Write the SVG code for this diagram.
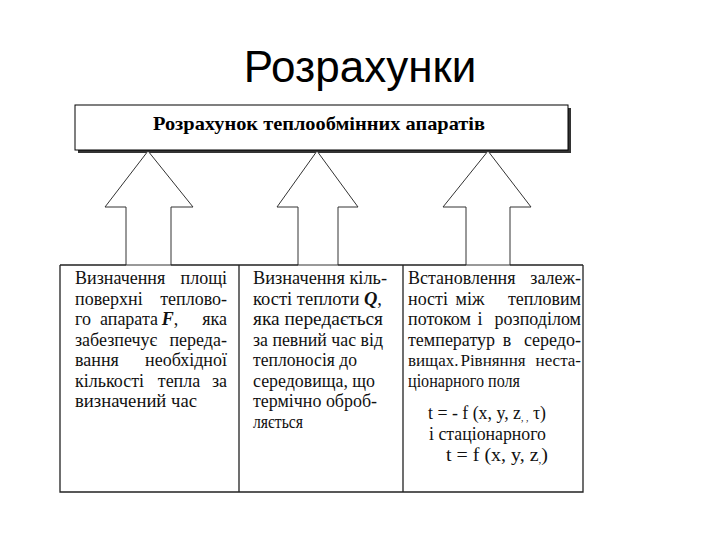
<svg xmlns="http://www.w3.org/2000/svg" width="720" height="540" viewBox="0 0 720 540">
<style>
.ttl{font-family:"Liberation Sans",Arial,sans-serif;font-size:44px;fill:#000}
.hd{font-family:"Liberation Serif","Times New Roman",serif;font-size:19px;font-weight:bold;fill:#000}
.tx{font-family:"Liberation Serif","Times New Roman",serif;font-size:18px;fill:#111}
.sm{font-size:17px}
.bi{font-weight:bold;font-style:italic}
.e{text-anchor:end}
.m{text-anchor:middle}
.arr{fill:#fff;stroke:#333;stroke-width:1}
.ln{stroke:#222;stroke-width:1.3;fill:none}
</style>
<rect width="720" height="540" fill="#fff"/>
<text class="ttl" x="360" y="82" text-anchor="middle">Розрахунки</text>

<g id="top-box">
  <rect x="78" y="108" width="493" height="45" fill="#333"/>
  <rect x="75" y="105" width="493" height="45" fill="#fff" stroke="#000" stroke-width="1"/>
  <text class="hd" x="319" y="130" text-anchor="middle" textLength="332" lengthAdjust="spacingAndGlyphs">Розрахунок теплообмінних апаратів</text>
</g>

<g id="connectors">
  <polygon class="arr" points="126,265 126,207 105,207 148,151 193,207 171,207 171,265"/>
  <polygon class="arr" points="298,265 298,207 277,207 317,151 358,207 338,207 338,265"/>
  <polygon class="arr" points="466,265 466,207 443,207 488,151 531,207 510,207 510,265"/>
</g>

<g id="table-frame">
  <path class="ln" d="M60,265 H126 M171,265 H298 M338,265 H466 M510,265 H583 M60,265 V492 H583 V265 M239,265 V492 M403,265 V492"/>
</g>

<g id="cell-1">
  <text class="tx" x="75" y="284">Визначення</text><text class="tx e" x="227" y="284">площі</text>
  <text class="tx" x="75" y="304.5">поверхні</text><text class="tx e" x="227" y="304.5">теплово-</text>
  <text class="tx" x="75" y="325">го</text><text class="tx m" x="129" y="325">апарата</text><text class="tx m" x="170" y="325"><tspan class="bi">F</tspan>,</text><text class="tx e" x="227" y="325">яка</text>
  <text class="tx" x="75" y="345.5">забезпечує</text><text class="tx e" x="227" y="345.5">переда-</text>
  <text class="tx" x="75" y="366">вання</text><text class="tx e" x="227" y="366">необхідної</text>
  <text class="tx" x="75" y="386.5">кількості</text><text class="tx m" x="179" y="386.5">тепла</text><text class="tx e" x="227" y="386.5">за</text>
  <text class="tx" x="75" y="407" textLength="122" lengthAdjust="spacingAndGlyphs">визначений час</text>
</g>

<g id="cell-2">
  <text class="tx" x="253" y="284" textLength="134" lengthAdjust="spacingAndGlyphs">Визначення кіль-</text>
  <text class="tx" x="253" y="304.5" textLength="129" lengthAdjust="spacingAndGlyphs">кості теплоти <tspan class="bi">Q</tspan>,</text>
  <text class="tx" x="253" y="325" textLength="130" lengthAdjust="spacingAndGlyphs">яка  передається</text>
  <text class="tx" x="253" y="345.5" textLength="130" lengthAdjust="spacingAndGlyphs">за певний час від</text>
  <text class="tx" x="253" y="366" textLength="104" lengthAdjust="spacingAndGlyphs">теплоносія до</text>
  <text class="tx" x="253" y="386.5" textLength="122" lengthAdjust="spacingAndGlyphs">середовища, що</text>
  <text class="tx" x="253" y="407" textLength="124" lengthAdjust="spacingAndGlyphs">термічно оброб-</text>
  <text class="tx" x="253" y="427.5" textLength="50" lengthAdjust="spacingAndGlyphs">ляється</text>
</g>

<g id="cell-3">
  <text class="tx" x="408" y="284">Встановлення</text><text class="tx e" x="581" y="284">залеж-</text>
  <text class="tx" x="408" y="304.5">ності</text><text class="tx m" x="470" y="304.5">між</text><text class="tx e" x="581" y="304.5">тепловим</text>
  <text class="tx" x="408" y="325">потоком</text><text class="tx m" x="480" y="325">і</text><text class="tx e" x="581" y="325">розподілом</text>
  <text class="tx" x="408" y="345.5">температур</text><text class="tx m" x="507" y="345.5">в</text><text class="tx e" x="581" y="345.5">середо-</text>
  <text class="tx sm" x="408" y="366">вищах.</text><text class="tx sm m" x="493" y="366">Рівняння</text><text class="tx sm e" x="581" y="366">неста-</text>
  <text class="tx" x="408" y="386.5" textLength="112" lengthAdjust="spacingAndGlyphs">ціонарного  поля</text>
  <text class="tx" x="428" y="419" textLength="118" lengthAdjust="spacingAndGlyphs">t = - f (x, y, z<tspan font-size="10" dy="2">, ,</tspan><tspan dy="-2"> τ)</tspan></text>
  <text class="tx" x="429" y="440" textLength="117" lengthAdjust="spacingAndGlyphs">і стаціонарного</text>
  <text class="tx" x="446" y="461" textLength="102" lengthAdjust="spacingAndGlyphs">t = f (x, y, z<tspan font-size="10" dy="2">,</tspan><tspan dy="-2">)</tspan></text>
</g>
</svg>
